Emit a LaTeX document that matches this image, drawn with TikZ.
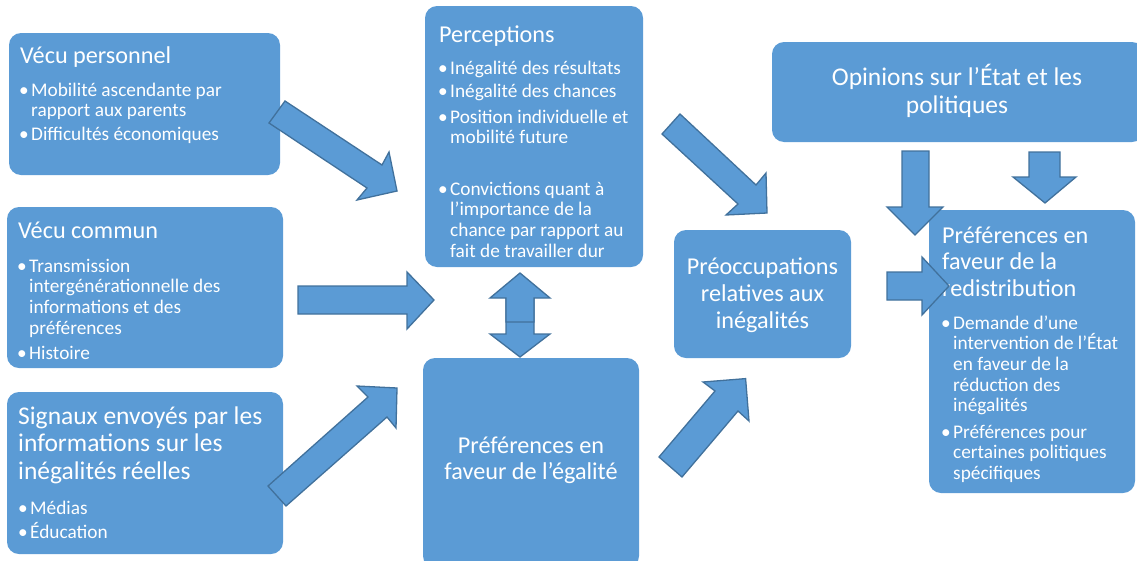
\documentclass[tikz,border=0pt]{standalone}
\usepackage{fontspec}
\setmainfont{Carlito}
\definecolor{boxblue}{HTML}{5B9BD5}
\definecolor{arrowline}{HTML}{41719C}
\tikzset{
  box/.style={fill=boxblue, draw=none, rounded corners=12pt, inner sep=0pt, outer sep=0pt, anchor=north west},
  barrow/.style={fill=boxblue, draw=arrowline, line width=1.3pt, line join=miter},
  ttl/.style={text=white, inner sep=0pt, font=\fontsize{24.2}{26.6}\selectfont},
  itm/.style={text=white, inner sep=0pt, align=left, anchor=base west, font=\fontsize{19.3}{20.7}\selectfont},
}
\newcommand{\bul}{\llap{•\hspace{2.5pt}}}
\begin{document}
\begin{tikzpicture}[x=1pt,y=-1pt]
\useasboundingbox (0,0) rectangle (1137,560);
% boxes
\node[box, minimum width=271pt, minimum height=142pt] (vp) at (9,33) {};
\node[box, minimum width=276pt, minimum height=161pt] (vc) at (7,207) {};
\node[box, minimum width=276pt, minimum height=162pt] (sg) at (7,392) {};
\node[box, minimum width=218pt, minimum height=261pt] (pc) at (425,6) {};
\node[box, minimum width=216pt, minimum height=210pt] (pe) at (423,358) {};
\node[box, minimum width=372pt, minimum height=100pt] (op) at (772,42) {};
\node[box, minimum width=177pt, minimum height=128pt] (po) at (674,230) {};
\node[box, minimum width=206pt, minimum height=283pt] (pr) at (929,210) {};
% texts (multi-line nodes anchored at the baseline of their last line)
\node[ttl, anchor=base west] (vpt) at (20,63) {Vécu personnel};
\node[itm] (vp1) at (31,116.7) {\bul Mobilité ascendante par\\rapport aux parents};
\node[itm] (vp2) at (31,140) {\bul Difficultés économiques};
\node[ttl, anchor=base west] (vct) at (18,238) {Vécu commun};
\node[itm] (vc1) at (29,334.1) {\bul Transmission\\intergénérationnelle des\\informations et des\\préférences};
\node[itm] (vc2) at (29,359) {\bul Histoire};
\node[ttl, anchor=base west, align=left, font=\fontsize{25.5}{27.5}\selectfont] (sgt) at (18,479) {Signaux envoyés par les\\informations sur les\\inégalités réelles};
\node[itm] (sg1) at (30,514) {\bul Médias};
\node[itm] (sg2) at (30,538) {\bul Éducation};
\node[ttl, anchor=base west] (pct) at (439,42) {Perceptions};
\node[itm] (pc1) at (450,74) {\bul Inégalité des résultats};
\node[itm] (pc2) at (450,97) {\bul Inégalité des chances};
\node[itm] (pc3) at (450,143.7) {\bul Position individuelle et\\mobilité future};
\node[itm] (pc4) at (450,257.1) {\bul Convictions quant à\\l’importance de la\\chance par rapport au\\fait de travailler dur};
\node[ttl, anchor=base, align=center] (pet) at (531,479.6) {Préférences en\\faveur de l’égalité};
\node[ttl, anchor=base, align=center, font=\fontsize{25.5}{28}\selectfont] (opt) at (957,113) {Opinions sur l’État et les\\politiques};
\node[ttl, anchor=base, align=center] (pot) at (762.5,328) {Préoccupations\\relatives aux\\inégalités};
\node[ttl, anchor=base west, align=left] (prt) at (942,296.2) {Préférences en\\faveur de la\\redistribution};
\node[itm] (pr1) at (953,411.8) {\bul Demande d’une\\intervention de l’État\\en faveur de la\\réduction des\\inégalités};
\node[itm] (pr2) at (953,479.4) {\bul Préférences pour\\certaines politiques\\spécifiques};
% block arrows
\draw[barrow] (285,101) -- (382,165) -- (389,152) -- (397,191) -- (357,200) -- (367,188) -- (269,123) -- cycle;
\draw[barrow] (298,286) -- (407,286) -- (407,272) -- (434,300) -- (407,329) -- (407,314) -- (298,314) -- cycle;
\draw[barrow] (268,486) -- (368,397) -- (357,386) -- (397,388) -- (396,428) -- (387,417) -- (286,506) -- cycle;
\draw[barrow] (506,298) -- (534,298) -- (534,334) -- (550,334) -- (520,357) -- (490,334) -- (506,334) -- cycle;
\draw[barrow] (506,322) -- (506,298) -- (490,298) -- (520,273) -- (550,298) -- (534,298) -- (534,322) -- cycle;
\draw[barrow] (680,114) -- (756,185) -- (766,173) -- (767,213) -- (726,215) -- (738,204) -- (662,134) -- cycle;
\draw[barrow] (659,457) -- (715,391) -- (703,382) -- (745.6,378.6) -- (749,421) -- (738,411) -- (682,477) -- cycle;
\draw[barrow] (902,151) -- (929,151) -- (929,207) -- (943,207) -- (915,235) -- (887,207) -- (902,207) -- cycle;
\draw[barrow] (1029,152) -- (1060,152) -- (1060,177) -- (1076,177) -- (1045,203) -- (1013,177) -- (1029,177) -- cycle;
\draw[barrow] (887,272) -- (922,272) -- (922,257) -- (949,286) -- (922,315) -- (922,300) -- (887,300) -- cycle;
\end{tikzpicture}
\end{document}
